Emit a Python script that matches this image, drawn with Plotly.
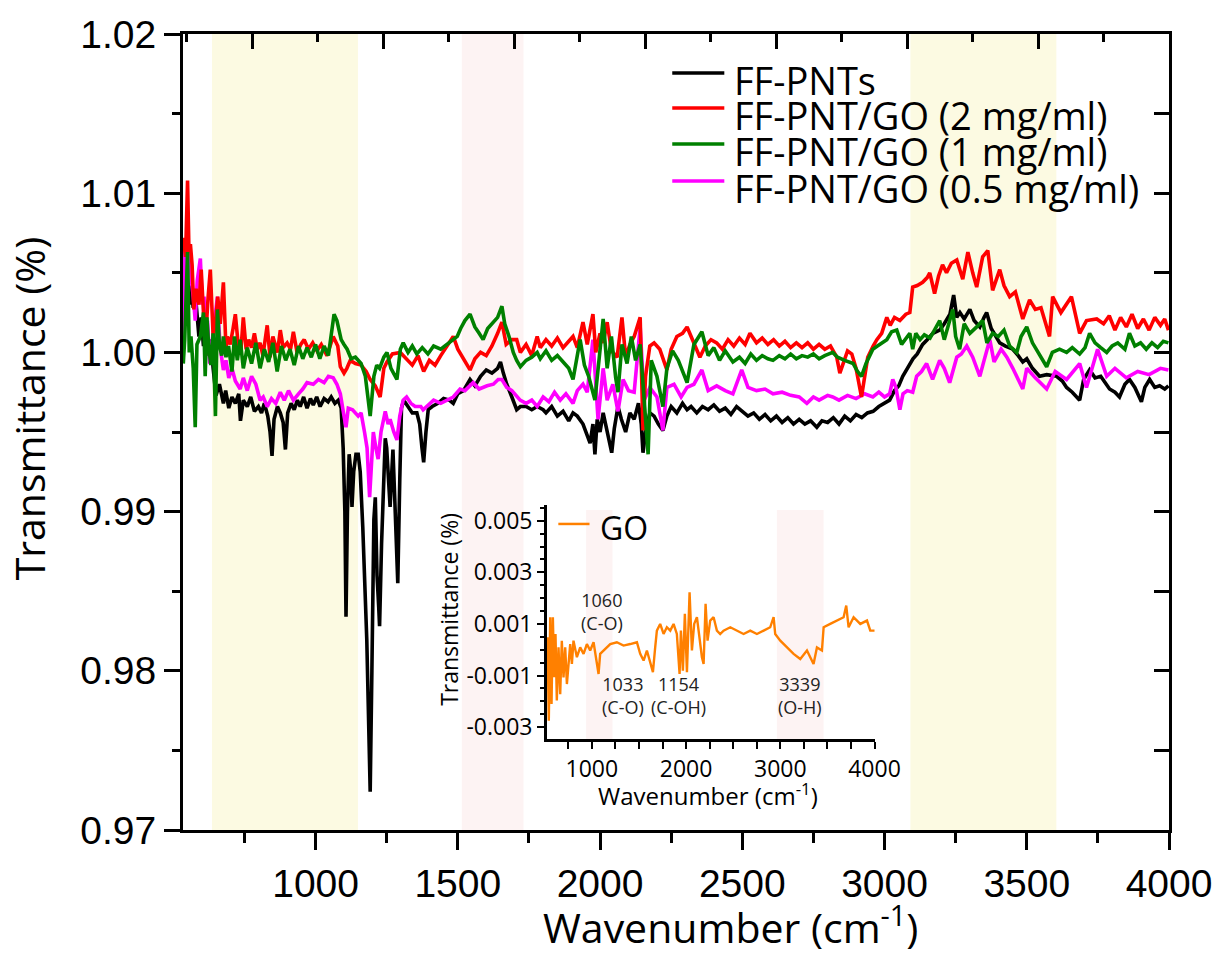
import plotly.graph_objects as go

# ---------------- data ----------------
ff_pnts = [(537,1.0040),(548,1.0052),(556,1.0030),(562,1.0042),(570,1.0028),(578,1.0035),(590,1.0010),(598,1.0022),
(606,1.0004),(614,1.0015),(622,0.9998),(632,1.0008),(640,0.9990),(650,0.9973),(662,0.9980),(676,0.9968),(684,0.9976),
(695,0.9965),(706,0.9972),(718,0.9968),(730,0.9974),(736,0.9957),(746,0.9970),(760,0.9966),(772,0.9972),(785,0.9963),
(799,0.9966),(810,0.9962),(820,0.9968),(832,0.9960),(840,0.9950),(847,0.9935),(854,0.9958),(866,0.9966),(876,0.9962),
(886,0.9956),(894,0.9939),(902,0.9962),(914,0.9968),(925,0.9964),(936,0.9970),(946,0.9966),(958,0.9972),(970,0.9965),
(982,0.9971),(992,0.9967),(1004,0.9972),(1016,0.9966),(1030,0.9971),(1044,0.9969),(1055,0.9972),(1068,0.9968),(1080,0.9970),
(1090,0.9965),(1097,0.9940),(1103,0.9900),(1107,0.9834),(1112,0.9900),(1118,0.9936),(1124,0.9925),(1128,0.9903),(1134,0.9925),
(1142,0.9936),(1150,0.9936),(1157,0.9925),(1166,0.9890),(1180,0.9820),(1186,0.9780),(1192,0.9724),(1198,0.9800),(1205,0.9895),
(1210,0.9909),(1216,0.9860),(1222,0.9840),(1225,0.9828),(1232,0.9880),(1240,0.9930),(1245,0.9946),(1250,0.9940),(1256,0.9915),
(1262,0.9903),(1268,0.9925),(1272,0.9939),(1280,0.9900),(1289,0.9855),(1296,0.9920),(1302,0.9965),(1310,0.9970),(1325,0.9966),
(1340,0.9962),(1356,0.9962),(1366,0.9955),(1374,0.9940),(1380,0.9931),(1388,0.9950),(1396,0.9964),(1410,0.9966),(1430,0.9968),
(1450,0.9971),(1470,0.9970),(1484,0.9968),(1500,0.9974),(1520,0.9976),(1543,0.9983),(1560,0.9979),(1580,0.9985),(1600,0.9989),
(1620,0.9987),(1640,0.9990),(1650,0.9994),(1660,0.9987),(1672,0.9980),(1690,0.9972),(1707,0.9964),(1720,0.9966),(1740,0.9966),
(1760,0.9964),(1779,0.9966),(1800,0.9964),(1810,0.9962),(1830,0.9966),(1850,0.9960),(1870,0.9963),(1890,0.9957),(1905,0.9962),
(1920,0.9960),(1940,0.9955),(1955,0.9948),(1965,0.9943),(1975,0.9955),(1982,0.9936),(1990,0.9958),(2000,0.9950),(2011,0.9962),
(2020,0.9955),(2030,0.9945),(2041,0.9937),(2050,0.9952),(2063,0.9966),(2075,0.9958),(2090,0.9950),(2105,0.9962),(2120,0.9958),
(2135,0.9968),(2145,0.9955),(2151,0.9937),(2160,0.9950),(2175,0.9962),(2190,0.9960),(2205,0.9955),(2221,0.9951),(2235,0.9960),
(2250,0.9966),(2270,0.9962),(2290,0.9968),(2306,0.9964),(2320,0.9966),(2340,0.9962),(2360,0.9966),(2380,0.9964),(2400,0.9967),
(2420,0.9963),(2440,0.9965),(2460,0.9961),(2480,0.9966),(2500,0.9963),(2520,0.9960),(2540,0.9962),(2560,0.9958),(2580,0.9961),
(2600,0.9957),(2620,0.9960),(2640,0.9956),(2660,0.9959),(2680,0.9955),(2700,0.9958),(2720,0.9955),(2740,0.9957),(2762,0.9953),
(2780,0.9957),(2800,0.9956),(2820,0.9959),(2840,0.9955),(2860,0.9960),(2880,0.9957),(2900,0.9961),(2920,0.9959),(2940,0.9962),
(2960,0.9963),(2980,0.9966),(3000,0.9968),(3018,0.9970),(3035,0.9976),(3050,0.9979),(3064,0.9985),(3078,0.9989),(3090,0.9993),
(3100,0.9996),(3115,0.9999),(3134,1.0005),(3150,1.0008),(3170,1.0012),(3194,1.0014),(3210,1.0018),(3230,1.0024),(3243,1.0036),
(3254,1.0022),(3265,1.0025),(3280,1.0021),(3300,1.0027),(3315,1.0020),(3335,1.0016),(3350,1.0022),(3359,1.0025),(3375,1.0015),
(3390,1.0010),(3405,1.0006),(3425,1.0004),(3451,1.0002),(3470,0.9998),(3486,0.9994),(3500,0.9996),(3520,0.9990),(3545,0.9985),
(3570,0.9986),(3605,0.9985),(3625,0.9982),(3640,0.9978),(3660,0.9975),(3686,0.9970),(3700,0.9983),(3721,0.9989),(3740,0.9984),
(3760,0.9985),(3791,0.9977),(3810,0.9975),(3826,0.9972),(3845,0.9980),(3861,0.9983),(3880,0.9978),(3903,0.9969),(3915,0.9978),
(3932,0.9983),(3950,0.9978),(3967,0.9979),(3985,0.9977),(3998,0.9979)]

go_2mg = [(535,1.0072),(543,1.0060),(550,1.0108),(555,1.0063),(560,1.0068),(566,1.0055),(572,1.0027),(580,1.0040),(590,1.0030),
(598,1.0052),(606,1.0025),(614,1.0010),(622,1.0034),(630,1.0052),(640,1.0010),(648,1.0018),(656,1.0035),(665,1.0018),(676,1.0044),
(685,1.0003),(690,1.0010),(700,1.0005),(710,1.0015),(718,1.0024),(728,1.0005),(737,1.0000),(746,1.0022),(756,1.0002),(765,1.0008),
(775,1.0003),(785,1.0012),(795,1.0002),(805,1.0006),(815,0.9998),(830,1.0017),(840,0.9997),(850,1.0010),(866,1.0000),(876,1.0014),
(886,1.0003),(900,1.0006),(912,1.0002),(922,1.0013),(935,1.0000),(948,1.0005),(960,1.0008),(975,1.0002),(990,1.0006),(1005,1.0001),
(1020,1.0005),(1040,0.9998),(1062,1.0010),(1078,1.0004),(1087,0.9991),(1100,0.9987),(1110,0.9990),(1122,0.9995),(1140,0.9993),
(1160,0.9992),(1178,0.9988),(1192,0.9983),(1210,0.9979),(1227,0.9972),(1240,0.9990),(1251,0.9994),(1270,0.9999),(1298,1.0000),
(1320,0.9996),(1340,0.9992),(1360,0.9998),(1380,0.9988),(1400,0.9995),(1420,0.9992),(1440,0.9998),(1463,1.0004),(1484,1.0010),
(1500,1.0002),(1520,0.9996),(1543,0.9989),(1560,0.9996),(1580,1.0000),(1600,0.9998),(1620,1.0004),(1640,1.0012),(1655,1.0019),
(1670,1.0005),(1690,1.0008),(1707,1.0008),(1720,1.0000),(1740,1.0005),(1760,0.9998),(1779,1.0010),(1790,1.0003),(1810,1.0008),
(1830,1.0004),(1850,1.0009),(1870,1.0003),(1890,1.0007),(1905,1.0010),(1920,1.0003),(1940,1.0019),(1955,1.0005),(1975,1.0024),
(1985,1.0000),(2000,1.0012),(2011,1.0006),(2025,1.0019),(2040,1.0001),(2060,0.9997),(2077,1.0022),(2090,0.9997),(2105,1.0005),
(2120,1.0010),(2141,1.0022),(2151,0.9951),(2160,0.9985),(2175,1.0004),(2190,1.0006),(2210,1.0002),(2235,0.9989),(2250,1.0002),
(2270,1.0010),(2290,1.0012),(2306,1.0016),(2330,1.0006),(2351,0.9997),(2370,1.0004),(2390,1.0008),(2410,1.0006),(2430,1.0002),
(2450,1.0008),(2470,1.0004),(2490,1.0009),(2510,1.0005),(2527,1.0012),(2550,1.0006),(2570,1.0009),(2590,1.0005),(2610,1.0008),
(2630,1.0004),(2650,1.0007),(2670,1.0003),(2690,1.0006),(2710,1.0003),(2730,1.0006),(2750,1.0002),(2770,1.0005),(2790,1.0002),
(2810,1.0004),(2832,0.9997),(2843,0.9987),(2855,0.9993),(2870,1.0001),(2885,0.9999),(2900,0.9990),(2919,0.9972),(2930,0.9985),
(2941,0.9997),(2960,1.0004),(2973,1.0008),(2990,1.0012),(3008,1.0022),(3020,1.0017),(3035,1.0022),(3054,1.0020),(3075,1.0024),
(3089,1.0025),(3099,1.0041),(3115,1.0042),(3134,1.0044),(3150,1.0047),(3159,1.0050),(3176,1.0037),(3190,1.0048),(3204,1.0055),
(3218,1.0050),(3235,1.0056),(3254,1.0058),(3275,1.0046),(3293,1.0063),(3310,1.0050),(3324,1.0041),(3345,1.0060),(3363,1.0064),
(3380,1.0039),(3405,1.0052),(3420,1.0042),(3440,1.0035),(3460,1.0038),(3486,1.0021),(3510,1.0033),(3530,1.0027),(3550,1.0028),
(3580,1.0010),(3591,1.0035),(3620,1.0025),(3657,1.0035),(3686,1.0012),(3710,1.0020),(3746,1.0021),(3770,1.0018),(3790,1.0023),
(3810,1.0014),(3830,1.0022),(3850,1.0016),(3870,1.0024),(3890,1.0015),(3910,1.0021),(3930,1.0014),(3950,1.0022),(3970,1.0017),
(3985,1.0021),(3998,1.0014)]

go_1mg = [(535,0.9993),(540,1.0008),(550,1.0063),(556,1.0000),(562,1.0010),(570,0.9990),(577,0.9953),(583,1.0005),(595,1.0010),
(606,1.0025),(612,0.9985),(618,1.0022),(625,1.0002),(632,0.9992),(640,1.0012),(648,0.9960),(655,1.0027),(662,1.0005),(670,0.9998),
(676,1.0010),(685,0.9997),(694,1.0004),(706,0.9988),(715,1.0010),(725,0.9995),(735,1.0008),(746,0.9990),(760,1.0003),(775,0.9993),
(790,1.0006),(805,0.9990),(820,1.0002),(835,0.9994),(850,1.0006),(865,0.9988),(880,1.0004),(895,0.9995),(910,1.0002),(925,0.9992),
(940,1.0004),(955,0.9996),(970,1.0003),(985,0.9997),(1000,1.0005),(1015,0.9996),(1030,1.0004),(1045,0.9998),(1055,1.0012),
(1065,1.0024),(1075,1.0020),(1090,1.0008),(1100,1.0005),(1111,1.0002),(1125,0.9996),(1140,0.9997),(1160,0.9993),(1175,0.9985),
(1192,0.9960),(1205,0.9985),(1215,0.9992),(1225,0.9990),(1240,0.9997),(1251,1.0000),(1265,0.9990),(1286,0.9983),(1298,1.0002),
(1308,1.0006),(1325,1.0000),(1340,1.0004),(1356,0.9999),(1375,1.0003),(1395,0.9999),(1415,1.0004),(1440,1.0002),(1463,1.0005),
(1484,1.0008),(1498,1.0010),(1510,1.0015),(1525,1.0020),(1543,1.0024),(1560,1.0016),(1575,1.0012),(1589,1.0008),(1605,1.0015),
(1620,1.0018),(1640,1.0022),(1655,1.0029),(1665,1.0018),(1680,1.0010),(1695,1.0000),(1707,0.9995),(1720,0.9991),(1740,0.9995),
(1760,0.9997),(1779,1.0000),(1790,0.9996),(1810,1.0001),(1830,0.9995),(1850,0.9998),(1870,0.9994),(1890,0.9990),(1905,0.9983),
(1920,0.9997),(1930,1.0008),(1945,0.9992),(1960,0.9985),(1982,0.9970),(1995,0.9995),(2011,1.0021),(2025,0.9990),(2040,1.0010),
(2055,0.9984),(2063,0.9975),(2077,1.0005),(2095,0.9993),(2110,1.0010),(2125,0.9995),(2141,1.0005),(2158,0.9962),(2169,0.9936),
(2180,0.9995),(2200,0.9985),(2221,0.9966),(2235,0.9990),(2255,1.0001),(2275,0.9995),(2306,0.9981),(2330,1.0005),(2358,1.0013),
(2380,0.9998),(2400,1.0003),(2420,0.9995),(2440,1.0001),(2467,0.9994),(2490,0.9997),(2510,0.9993),(2530,0.9999),(2550,0.9995),
(2570,0.9998),(2590,0.9996),(2608,0.9995),(2630,0.9998),(2650,0.9996),(2670,0.9999),(2690,0.9996),(2710,0.9998),(2730,0.9997),
(2750,0.9999),(2770,0.9996),(2790,0.9998),(2818,1.0000),(2835,0.9997),(2860,0.9995),(2890,0.9993),(2905,0.9988),(2919,0.9985),
(2935,0.9993),(2959,1.0002),(2975,1.0004),(2990,1.0006),(3008,1.0008),(3025,1.0013),(3043,1.0014),(3060,1.0005),(3075,1.0009),
(3089,1.0012),(3099,1.0002),(3110,1.0012),(3125,1.0008),(3140,1.0011),(3160,1.0009),(3180,1.0015),(3194,1.0020),(3210,1.0008),
(3225,1.0018),(3240,1.0027),(3250,1.0010),(3264,1.0002),(3280,1.0018),(3300,1.0012),(3324,1.0016),(3345,1.0020),(3360,1.0006),
(3380,1.0012),(3400,1.0010),(3420,1.0014),(3440,1.0004),(3465,1.0000),(3480,1.0010),(3500,1.0016),(3520,1.0006),(3545,0.9998),
(3570,0.9991),(3590,1.0000),(3615,1.0002),(3640,1.0000),(3660,1.0003),(3686,0.9999),(3705,1.0003),(3721,1.0012),(3740,1.0006),
(3760,1.0003),(3781,1.0000),(3800,1.0004),(3820,1.0006),(3845,1.0002),(3861,1.0012),(3880,1.0004),(3900,1.0006),(3920,1.0002),
(3940,1.0006),(3960,1.0003),(3980,1.0007),(3998,1.0006)]

go_05mg = [(535,1.0064),(538,1.0010),(542,1.0060),(550,1.0071),(556,1.0065),(562,1.0048),(570,1.0035),(577,1.0020),(584,1.0045),
(595,1.0059),(602,1.0030),(608,1.0035),(614,1.0008),(620,1.0020),(628,0.9993),(640,1.0010),(648,1.0025),(655,1.0035),(664,1.0004),
(676,0.9989),(685,0.9995),(695,0.9984),(706,0.9990),(718,0.9982),(735,0.9977),(746,0.9984),(760,0.9976),(775,0.9985),(790,0.9980),
(805,0.9970),(816,0.9972),(830,0.9966),(845,0.9971),(860,0.9968),(876,0.9975),(890,0.9970),(905,0.9976),(922,0.9970),(940,0.9974),
(955,0.9977),(970,0.9981),(992,0.9980),(1010,0.9983),(1030,0.9981),(1045,0.9985),(1062,0.9984),(1075,0.9980),(1087,0.9974),
(1100,0.9960),(1107,0.9953),(1115,0.9965),(1130,0.9964),(1150,0.9960),(1160,0.9962),(1172,0.9950),(1181,0.9940),(1190,0.9909),
(1197,0.9935),(1203,0.9950),(1212,0.9940),(1220,0.9933),(1230,0.9950),(1245,0.9963),(1255,0.9955),(1262,0.9958),(1275,0.9950),
(1286,0.9945),(1296,0.9960),(1308,0.9970),(1320,0.9972),(1335,0.9968),(1350,0.9966),(1370,0.9966),(1378,0.9964),(1395,0.9967),
(1415,0.9970),(1440,0.9968),(1463,0.9970),(1484,0.9972),(1508,0.9977),(1525,0.9976),(1554,0.9981),(1575,0.9977),(1603,0.9979),
(1625,0.9980),(1642,0.9983),(1655,0.9983),(1672,0.9978),(1690,0.9976),(1719,0.9970),(1740,0.9968),(1760,0.9970),(1779,0.9966),
(1800,0.9972),(1820,0.9969),(1840,0.9975),(1860,0.9970),(1880,0.9974),(1905,0.9968),(1920,0.9976),(1940,0.9980),(1955,0.9975),
(1975,1.0008),(1993,0.9958),(2011,0.9990),(2025,0.9970),(2045,0.9980),(2063,0.9963),(2081,0.9983),(2100,0.9976),(2120,0.9975),
(2141,1.0016),(2155,0.9970),(2175,0.9978),(2200,0.9972),(2221,0.9951),(2235,0.9978),(2260,0.9980),(2285,0.9972),(2306,0.9978),
(2330,0.9980),(2358,0.9989),(2380,0.9976),(2410,0.9979),(2440,0.9976),(2467,0.9974),(2498,0.9989),(2520,0.9978),(2550,0.9976),
(2580,0.9977),(2608,0.9974),(2640,0.9975),(2670,0.9973),(2700,0.9972),(2727,0.9968),(2750,0.9972),(2770,0.9970),(2800,0.9973),
(2818,0.9972),(2840,0.9970),(2870,0.9973),(2900,0.9971),(2930,0.9974),(2959,0.9972),(2980,0.9975),(3000,0.9972),(3018,0.9974),
(3029,0.9983),(3040,0.9978),(3054,0.9964),(3065,0.9974),(3080,0.9976),(3099,0.9975),(3113,0.9985),(3130,0.9988),(3148,0.9993),
(3169,0.9983),(3194,0.9995),(3210,0.9990),(3229,0.9981),(3254,0.9997),(3270,0.9999),(3289,1.0004),(3310,0.9997),(3335,0.9985),
(3350,0.9995),(3370,1.0008),(3385,0.9994),(3410,1.0002),(3430,0.9997),(3451,0.9990),(3486,0.9977),(3500,0.9990),(3530,0.9984),
(3570,0.9977),(3600,0.9988),(3640,0.9983),(3686,0.9993),(3710,0.9978),(3749,1.0002),(3781,0.9985),(3810,0.9990),(3850,0.9984),
(3890,0.9988),(3930,0.9986),(3970,0.9990),(3998,0.9989)]

go_only = [(529,0.00048),(543,-0.00275),(558,0.00126),(572,-0.0021),(586,0.00126),(600,-0.00107),(614,0.00061),(628,-0.00197),
(646,0.00009),(664,-0.00172),(681,0.00035),(699,-0.00107),(717,0.00009),(735,-0.00133),(770,0.00022),(788,-0.00055),(805,0.00035),
(841,-0.00029),(876,0.00009),(912,-0.00016),(947,0.00022),(982,-0.00003),(1018,0.00029),(1053,-0.00055),(1071,-0.00094),
(1088,-0.00016),(1124,-0.00003),(1195,0.00022),(1265,0.00029),(1336,0.00016),(1407,0.00022),(1478,0.00029),(1513,-0.00016),
(1549,-0.00042),(1584,-0.00003),(1619,-0.00055),(1648,-0.00087),(1672,0.00009),(1690,0.00074),(1725,0.001),(1761,0.00061),
(1796,0.00087),(1832,0.00074),(1867,0.001),(1902,0.00061),(1931,-0.00094),(1945,0.00074),(1966,-0.00081),(1987,0.00139),
(2009,-0.00087),(2037,0.00223),(2062,-0.00003),(2086,0.001),(2115,0.00126),(2143,0.00048),(2168,-0.00029),(2186,-0.00055),
(2207,0.00178),(2228,0.00035),(2256,0.00113),(2292,0.00126),(2327,0.00074),(2362,0.00061),(2398,0.00074),(2469,0.00087),
(2539,0.00074),(2610,0.00061),(2681,0.00074),(2752,0.00061),(2823,0.00074),(2893,0.00087),(2929,0.00126),(2946,0.00061),
(3000,0.00035),(3070,0.00009),(3141,-0.00016),(3212,-0.00036),(3283,-0.00003),(3353,-0.00055),(3389,0.00009),(3442,-0.00003),
(3460,0.00087),(3530,0.001),(3601,0.00113),(3672,0.00126),(3700,0.00171),(3725,0.00087),(3778,0.00126),(3849,0.001),
(3920,0.00113),(3955,0.00074),(4000,0.00074)]

series_names = ["FF-PNTs", "FF-PNT/GO (2 mg/ml)", "FF-PNT/GO (1 mg/ml)", "FF-PNT/GO (0.5 mg/ml)"]
series_colors = ["#000000", "#FF0000", "#008000", "#FF00FF"]
series_data = [ff_pnts, go_2mg, go_1mg, go_05mg]
draw_order = [0, 3, 1, 2]

main_bands = [(636, 1149, "yellow"), (1514, 1731, "pink"), (3091, 3604, "yellow")]
inset_bands = [(939, 1219), (2964, 3459)]
band_colors = {"yellow": "#FCFAE2", "pink": "#FDF3F3"}

# peak labels of the inset: text and (x, y) position as a fraction of the inset frame
inset_labels = [("1060<br>(C-O)", 0.168, 0.545), ("1033<br>(C-O)", 0.232, 0.187),
                ("1154<br>(C-OH)", 0.402, 0.187), ("3339<br>(O-H)", 0.772, 0.187)]

main_xticks = [1000, 1500, 2000, 2500, 3000, 3500, 4000]
main_yticks = [0.97, 0.98, 0.99, 1.00, 1.01, 1.02]
main_yticktext = ["0.97", "0.98", "0.99", "1.00", "1.01", "1.02"]
inset_xticks = [1000, 2000, 3000, 4000]
inset_yticks = [-0.003, -0.001, 0.001, 0.003, 0.005]
inset_yticktext = ["-0.003", "-0.001", "0.001", "0.003", "0.005"]

# ---------------- figure ----------------
fig = go.Figure()
for i in draw_order:
    xs = [p[0] for p in series_data[i]]
    ys = [p[1] for p in series_data[i]]
    fig.add_trace(go.Scatter(x=xs, y=ys, mode="lines", name=series_names[i],
                             line=dict(color=series_colors[i], width=3.6), showlegend=False,
                             xaxis="x", yaxis="y"))

fig.add_trace(go.Scatter(x=[p[0] for p in go_only], y=[p[1] for p in go_only], mode="lines",
                         name="GO", line=dict(color="#FF8000", width=2.4), showlegend=False,
                         xaxis="x2", yaxis="y2"))

TICKFONT = dict(family="Liberation Sans, Arial", size=39, color="black")
SANS = "Open Sans"

fig.update_layout(
    width=1218, height=956, autosize=False,
    margin=dict(l=183, r=49, t=34, b=126, autoexpand=False),
    paper_bgcolor="white", plot_bgcolor="rgba(0,0,0,0)",
    showlegend=False,
    xaxis=dict(domain=[0, 1], range=[534, 4000], tickvals=main_xticks, ticks="outside", automargin=False,
               ticklen=17, tickwidth=3, tickcolor="black", showline=True, linewidth=3, linecolor="black",
               showgrid=False, zeroline=False, tickfont=TICKFONT,
               minor=dict(dtick=250, tick0=0, ticks="outside", ticklen=10, tickwidth=3, tickcolor="black", showgrid=False)),
    yaxis=dict(domain=[0, 1], range=[0.97, 1.02], tickvals=main_yticks, ticktext=main_yticktext, ticks="outside",
               automargin=False,
               ticklen=16, tickwidth=3, tickcolor="black", showline=True, linewidth=3, linecolor="black",
               showgrid=False, zeroline=False, tickfont=TICKFONT,
               minor=dict(dtick=0.005, tick0=0, ticks="outside", ticklen=8, tickwidth=3, tickcolor="black", showgrid=False)),
    xaxis3=dict(overlaying="x", side="top", anchor="y", range=[0, 3764.5], tick0=264.5, dtick=500, automargin=False,
                ticks="inside", ticklen=15, tickwidth=3, tickcolor="black", showticklabels=False,
                showline=True, linewidth=3, linecolor="black", showgrid=False, zeroline=False,
                minor=dict(dtick=250, tick0=264.5, ticks="inside", ticklen=8, tickwidth=3, tickcolor="black", showgrid=False)),
    yaxis3=dict(overlaying="y", side="right", anchor="x", range=[0.97, 1.02], dtick=0.005, tick0=0, automargin=False,
                ticks="inside", ticklen=15, tickwidth=3, tickcolor="black", showticklabels=False,
                showline=True, linewidth=3, linecolor="black", showgrid=False, zeroline=False),
    xaxis2=dict(domain=[0.369, 0.702], anchor="y2", range=[522, 4007], tickvals=inset_xticks, ticks="outside",
                automargin=False,
                ticklen=7, tickwidth=2, tickcolor="black", showline=True, linewidth=2.5, linecolor="black",
                showgrid=False, zeroline=False, tickfont=dict(family=SANS, size=23, color="black"),
                minor=dict(dtick=250, tick0=0, ticks="outside", ticklen=7, tickwidth=2, tickcolor="black", showgrid=False)),
    yaxis2=dict(domain=[0.114, 0.408], anchor="x2", range=[-0.00347, 0.0056], tickvals=inset_yticks,
                ticktext=inset_yticktext, ticks="outside", ticklen=7, tickwidth=2, tickcolor="black", automargin=False,
                showline=True, linewidth=2.5, linecolor="black", showgrid=False, zeroline=False,
                tickfont=dict(family=SANS, size=23, color="black"),
                minor=dict(dtick=0.0005, tick0=0, ticks="outside", ticklen=4, tickwidth=2, tickcolor="black", showgrid=False)),
)

# empty traces so the mirror axes are drawn
fig.add_trace(go.Scatter(x=[None], y=[None], xaxis="x3", yaxis="y", showlegend=False, hoverinfo="skip"))
fig.add_trace(go.Scatter(x=[None], y=[None], xaxis="x", yaxis="y3", showlegend=False, hoverinfo="skip"))

shapes = []
for x0, x1, c in main_bands:
    shapes.append(dict(type="rect", xref="x", yref="paper", x0=x0, x1=x1, y0=0, y1=1,
                       fillcolor=band_colors[c], line=dict(width=0), layer="below"))
for x0, x1 in inset_bands:
    shapes.append(dict(type="rect", xref="x2", yref="y2 domain", x0=x0, x1=x1, y0=0.0, y1=0.98,
                       fillcolor=band_colors["pink"], line=dict(width=0), layer="below"))

annotations = []
# main legend (drawn manually to match the tight row spacing)
leg_x0, leg_x1, leg_tx = 0.4962, 0.5490, 0.5570
leg_rows = [0.9510, 0.9070, 0.8618, 0.8153]
for name, col, yy in zip(series_names, series_colors, leg_rows):
    shapes.append(dict(type="line", xref="paper", yref="paper", x0=leg_x0, x1=leg_x1, y0=yy, y1=yy,
                       line=dict(color=col, width=3.5)))
    annotations.append(dict(xref="paper", yref="paper", x=leg_tx, y=yy - 0.009, text=name, showarrow=False,
                            xanchor="left", yanchor="middle", font=dict(family=SANS, size=38, color="black")))

# inset legend
shapes.append(dict(type="line", xref="x2 domain", yref="y2 domain", x0=0.035, x1=0.13, y0=0.92, y1=0.92,
                   line=dict(color="#FF8000", width=2.5)))
annotations.append(dict(xref="x2 domain", yref="y2 domain", x=0.155, y=0.905, text="GO", showarrow=False,
                        xanchor="left", yanchor="middle", font=dict(family=SANS, size=32, color="black")))

# inset peak labels
for txt, fx, fy in inset_labels:
    annotations.append(dict(xref="x2 domain", yref="y2 domain", x=fx, y=fy, text=txt, showarrow=False,
                            xanchor="center", yanchor="middle",
                            font=dict(family=SANS, size=18, color="#222222")))

# axis titles
annotations.append(dict(xref="paper", yref="paper", x=-0.156, y=0.53, text="Transmittance (%)", textangle=-90,
                        showarrow=False, xanchor="center", yanchor="middle",
                        font=dict(family=SANS, size=41, color="black")))
annotations.append(dict(xref="paper", yref="paper", x=0.555, y=-0.1195, text="Wavenumber (cm<sup>-1</sup>)",
                        showarrow=False, xanchor="center", yanchor="middle",
                        font=dict(family=SANS, size=41, color="black")))
annotations.append(dict(xref="x2 domain", yref="paper", x=-0.30, y=0.277, text="Transmittance (%)", textangle=-90,
                        showarrow=False, xanchor="center", yanchor="middle",
                        font=dict(family=SANS, size=23, color="black")))
annotations.append(dict(xref="x2 domain", yref="paper", x=0.49, y=0.044, text="Wavenumber (cm<sup>-1</sup>)",
                        showarrow=False, xanchor="center", yanchor="middle",
                        font=dict(family=SANS, size=24, color="black")))

fig.update_layout(shapes=shapes, annotations=annotations)
fig.write_html("out.html")
